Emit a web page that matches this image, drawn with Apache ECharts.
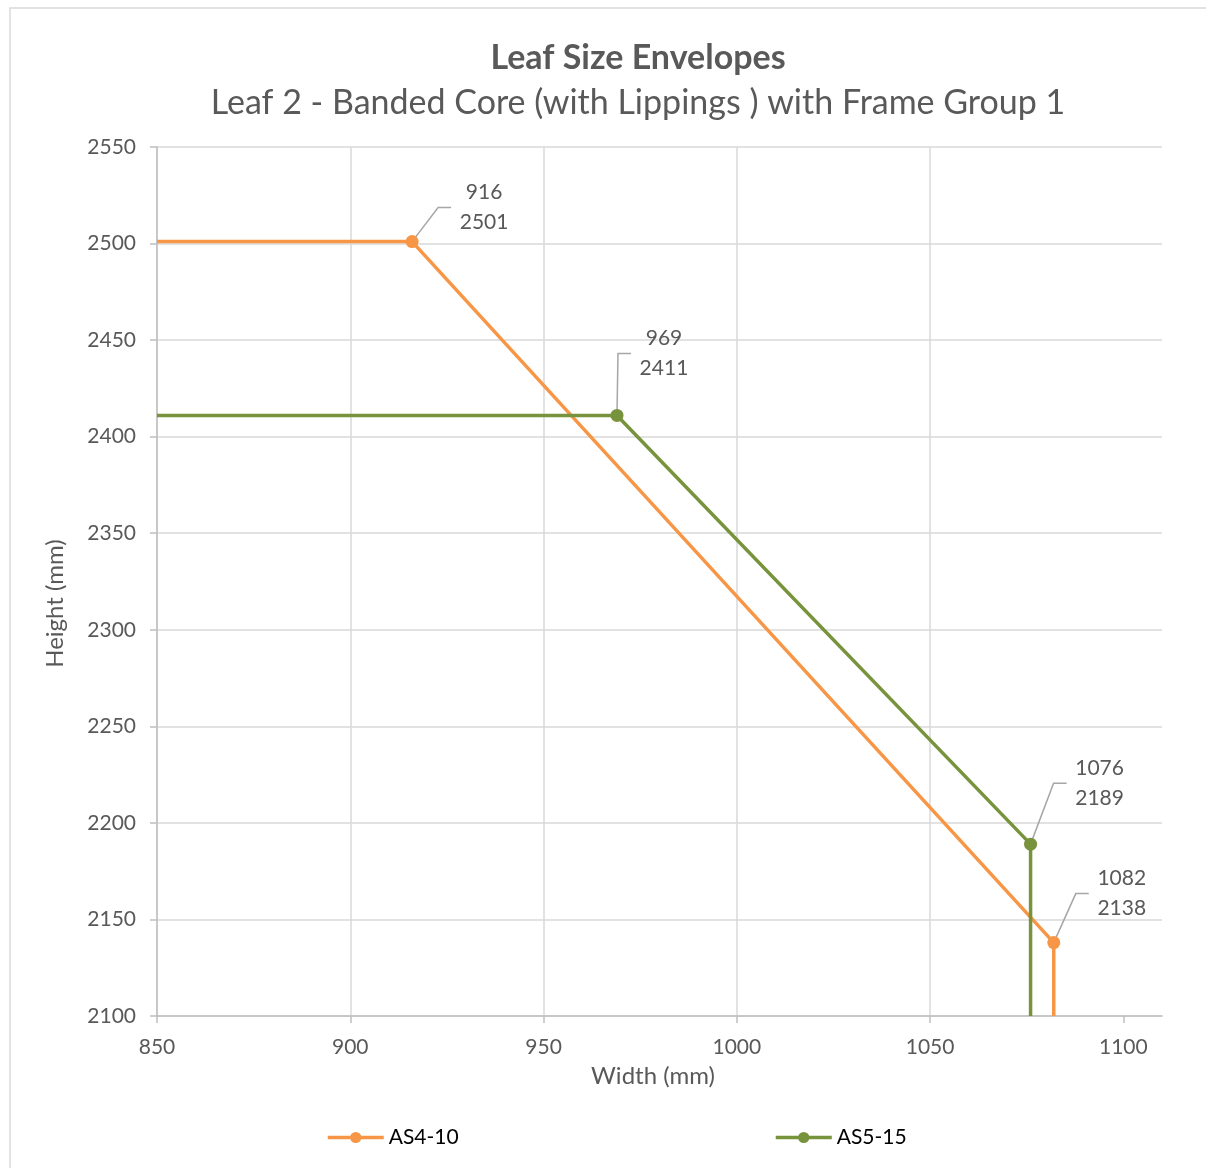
<!DOCTYPE html>
<html>
<head>
<meta charset="utf-8">
<script src="https://cdn.jsdelivr.net/npm/echarts@6/dist/echarts.min.js"></script>
<style>
  html, body { margin: 0; padding: 0; background: #fff; }
  #envelope { width: 1206px; height: 1168px; }
</style>
</head>
<body>
<div id="envelope"></div>
<script>
// envelope corners
var seriesNames = ['AS4-10', 'AS5-15'];
var as4Width = [850, 916, 1082, 1082];
var as4Height = [2501, 2501, 2138, 2100];
var as5Width = [850, 969, 1076, 1076];
var as5Height = [2411, 2411, 2189, 2100];
var xTicks = [850, 900, 950, 1000, 1050, 1100];
// which points carry a marker + value label
var as4Marked = [false, true, true, false];
var as5Marked = [false, true, true, false];

function draw_envelope() {
    var dom = document.getElementById('envelope');
    var myChart = echarts.init(dom, null, { renderer: 'canvas' });
    var textColor = '#595959';
    var font = 'Lato';

    function buildData(xs, ys, marked) {
      return xs.map(function (x, i) {
        var item = { value: [x, ys[i]] };
        if (!marked[i]) item.symbol = 'none';
        return item;
      });
    }

    // marked points, collected for the callout series
    var callouts = [];
    [[as4Width, as4Height, as4Marked], [as5Width, as5Height, as5Marked]].forEach(function (s) {
      s[0].forEach(function (x, i) {
        if (s[2][i]) callouts.push([x, s[1][i]]);
      });
    });
    // label centre offset from its point (px), same order as callouts
    var calloutOffsets = [[72, -34], [68, -49], [47, -62], [69, -61]];

    function renderCallout(params, api) {
      var p = api.coord([api.value(0), api.value(1)]);
      var off = calloutOffsets[params.dataIndex];
      var cx = p[0] + off[0], cy = p[1] + off[1];
      var endX = cx - 33;
      return {
        type: 'group',
        children: [{
          type: 'polyline',
          shape: { points: [p, [endX - 13, cy], [endX, cy]] },
          style: { stroke: '#a6a6a6', lineWidth: 1.5, fill: null }
        }, {
          type: 'text',
          x: cx,
          y: cy,
          style: {
            text: api.value(0) + '\n' + api.value(1),
            fill: textColor,
            font: '21px ' + font,
            lineHeight: 30,
            align: 'center',
            verticalAlign: 'middle'
          }
        }]
      };
    }

    var legendText = { color: '#000', fontSize: 21, fontFamily: font };

    var option = {
      animation: false,
      graphic: [{
        type: 'rect',
        shape: { x: 10, y: 8, width: 1220, height: 1190 },
        style: { fill: 'none', stroke: '#d9d9d9', lineWidth: 1.5 },
        silent: true
      }, {
        type: 'text',
        x: 638, y: 58,
        style: { text: 'Leaf Size Envelopes', fill: textColor, font: 'bold 34px ' + font, align: 'center', verticalAlign: 'middle' }
      }, {
        type: 'text',
        x: 638, y: 103,
        style: { text: 'Leaf 2 - Banded Core (with Lippings ) with Frame Group 1', fill: textColor, font: '34px ' + font, align: 'center', verticalAlign: 'middle' }
      }],
      legend: [{
        data: [seriesNames[0]],
        left: 321,
        top: 1122,
        itemWidth: 56,
        itemHeight: 14,
        lineStyle: { width: 3.5 },
        textStyle: legendText
      }, {
        data: [seriesNames[1]],
        left: 769,
        top: 1122,
        itemWidth: 56,
        itemHeight: 14,
        lineStyle: { width: 3.5 },
        textStyle: legendText
      }],
      grid: { left: 157, right: 44, top: 147, bottom: 152, containLabel: false },
      xAxis: {
        type: 'value',
        min: 850,
        max: 1110,
        interval: 50,
        name: 'Width (mm)',
        nameLocation: 'middle',
        nameGap: 48,
        nameTextStyle: { color: textColor, fontSize: 24, fontFamily: font, padding: [0, 13, 0, 0] },
        axisLine: { show: true, onZero: false, lineStyle: { color: '#bfbfbf', width: 1.5 } },
        axisTick: { show: true, length: 7, customValues: xTicks, lineStyle: { color: '#bfbfbf', width: 1.5 } },
        axisLabel: {
          customValues: xTicks, color: textColor, fontSize: 21, fontFamily: font, margin: 21,
          formatter: function (v) { return String(v); }
        },
        splitLine: { show: true, showMaxLine: false, lineStyle: { color: '#d9d9d9', width: 1.5 } }
      },
      yAxis: {
        type: 'value',
        min: 2100,
        max: 2550,
        interval: 50,
        name: 'Height (mm)',
        nameLocation: 'middle',
        nameGap: 90,
        nameTextStyle: { color: textColor, fontSize: 24, fontFamily: font, padding: [0, 44, 0, 0] },
        axisLine: { show: true, onZero: false, lineStyle: { color: '#bfbfbf', width: 1.5 } },
        axisTick: { show: true, length: 7, lineStyle: { color: '#bfbfbf', width: 1.5 } },
        axisLabel: {
          color: textColor, fontSize: 21, fontFamily: font, margin: 21,
          formatter: function (v) { return String(v); }
        },
        splitLine: { show: true, lineStyle: { color: '#d9d9d9', width: 1.5 } }
      },
      series: [
        {
          name: seriesNames[0],
          type: 'line',
          color: '#f79646',
          symbol: 'circle',
          symbolSize: 13,
          showAllSymbol: true,
          lineStyle: { width: 3.5 },
          data: buildData(as4Width, as4Height, as4Marked)
        },
        {
          name: seriesNames[1],
          type: 'line',
          color: '#77933c',
          symbol: 'circle',
          symbolSize: 13,
          showAllSymbol: true,
          lineStyle: { width: 3.5 },
          data: buildData(as5Width, as5Height, as5Marked)
        },
        {
          name: 'callouts',
          type: 'custom',
          renderItem: renderCallout,
          data: callouts,
          z: 1,
          clip: false,
          silent: true
        }
      ]
    };

    myChart.setOption(option);
    window.addEventListener('resize', myChart.resize);
}

draw_envelope();
</script>
</body>
</html>
